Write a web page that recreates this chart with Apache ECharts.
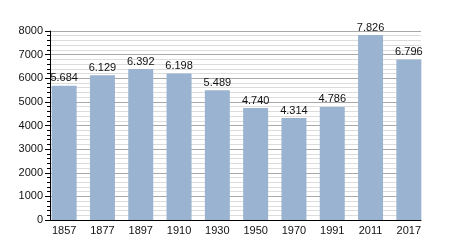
<!DOCTYPE html>
<html><head><meta charset="utf-8">
<script src="https://cdn.jsdelivr.net/npm/echarts@6/dist/echarts.min.js"></script>
<style>html,body{margin:0;padding:0;background:#fff}#c{width:450px;height:250px}</style>
</head><body><div id="c"></div>
<script>
const categories = ['1857','1877','1897','1910','1930','1950','1970','1991','2011','2017'];
const population = [5684, 6129, 6392, 6198, 5489, 4740, 4314, 4786, 7826, 6796];
const yTicks = [0, 1000, 2000, 3000, 4000, 5000, 6000, 7000, 8000];

const font = 'Liberation Sans, Arial, sans-serif';
const chart = echarts.init(document.getElementById('c'), null, {renderer: 'canvas'});
chart.setOption({
  animation: false,
  grid: [
    {left: 50, right: 29, top: 31, bottom: 30},
    {left: 45, right: 22, top: 31, bottom: 30}
  ],
  xAxis: [
    {
      gridIndex: 0, type: 'category', data: categories,
      axisLine: {show: true, lineStyle: {color: '#000', width: 1}},
      axisTick: {show: false}, axisLabel: {show: false}, splitLine: {show: false}
    },
    {
      gridIndex: 1, type: 'category', data: categories,
      axisLine: {show: false}, axisTick: {show: false},
      axisLabel: {color: '#111', fontSize: 11, fontFamily: font, margin: 5}
    }
  ],
  yAxis: [
    {
      gridIndex: 0, type: 'value', min: yTicks[0], max: yTicks[yTicks.length - 1], interval: 1000,
      axisLine: {show: true, lineStyle: {color: '#000', width: 1}},
      axisTick: {show: true, length: 5, lineStyle: {color: '#000'}},
      minorTick: {show: true, splitNumber: 5, length: 3, lineStyle: {color: '#000'}},
      splitLine: {show: true, lineStyle: {color: '#a8a8a8', width: 1}},
      minorSplitLine: {show: true, lineStyle: {color: '#dcdcdc', width: 1}},
      axisLabel: {color: '#111', fontSize: 11, fontFamily: font, margin: 7, formatter: v => String(v)}
    },
    {
      gridIndex: 1, type: 'value', min: yTicks[0], max: yTicks[yTicks.length - 1],
      show: false, splitLine: {show: false}
    }
  ],
  series: [{
    type: 'bar', xAxisIndex: 1, yAxisIndex: 1, data: population, barWidth: 25,
    itemStyle: {color: '#9ab3d0'},
    label: {
      show: true, position: 'top', distance: 2, color: '#111', fontSize: 11,
      fontFamily: font,
      formatter: p => String(p.value).replace(/\B(?=(\d{3})+(?!\d))/g, '.')
    }
  }]
});
</script></body></html>
